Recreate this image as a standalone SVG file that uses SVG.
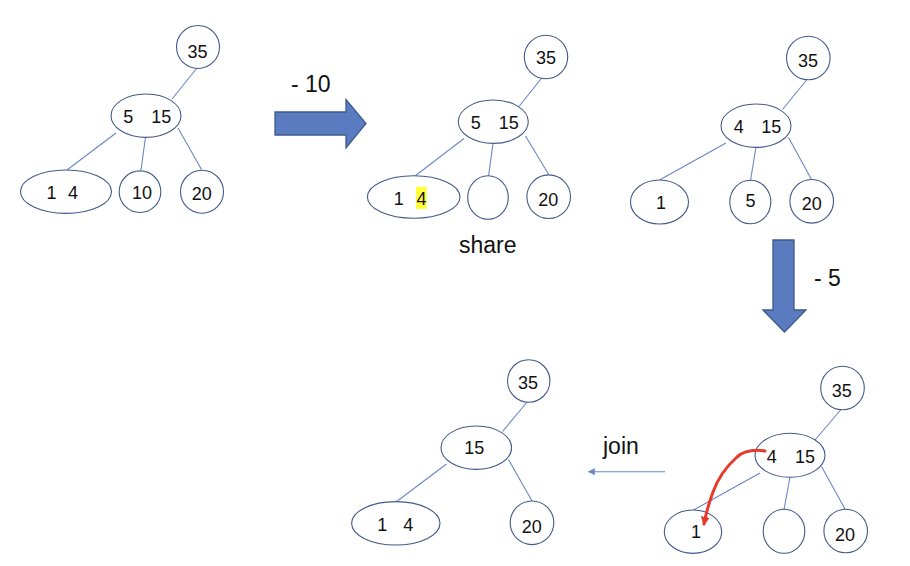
<svg xmlns="http://www.w3.org/2000/svg" width="910" height="566" viewBox="0 0 910 566">
<defs>
<style>
.n{fill:#fff;stroke:#44598a;stroke-width:1.1}
.e{stroke:#6a87c2;stroke-width:1.1;fill:none}
.t{font-family:"Liberation Sans",Arial,sans-serif;font-size:18px;fill:#111;text-anchor:middle}
.l{font-family:"Liberation Sans",Arial,sans-serif;font-size:23px;fill:#111}
.big{fill:#5a7bbf;stroke:#3d5a8c;stroke-width:1.3}
</style>
<marker id="ah" viewBox="0 0 10 10" refX="9" refY="5" markerWidth="7" markerHeight="7" orient="auto" markerUnits="userSpaceOnUse"><path d="M0,0 L10,5 L0,10 z" fill="#6a87c2"/></marker>
<marker id="rh" viewBox="0 0 10 10" refX="8" refY="5" markerWidth="9" markerHeight="9" orient="auto" markerUnits="userSpaceOnUse"><path d="M0,0 L10,5 L0,10 z" fill="#e53a2c"/></marker>
</defs>
<rect width="910" height="566" fill="#fff"/>
<g id="connectors">
<line class="e" x1="197" y1="68" x2="172" y2="99"/>
<line class="e" x1="116" y1="133" x2="67" y2="170"/>
<line class="e" x1="145.5" y1="137" x2="141" y2="170"/>
<line class="e" x1="178" y1="128" x2="201.5" y2="169.5"/>
<line class="e" x1="542.5" y1="77" x2="519" y2="106.5"/>
<line class="e" x1="464" y1="138.5" x2="415" y2="176"/>
<line class="e" x1="493" y1="143.5" x2="488.5" y2="176.5"/>
<line class="e" x1="525.5" y1="136" x2="549" y2="175"/>
<line class="e" x1="807" y1="79.5" x2="782.5" y2="109.5"/>
<line class="e" x1="726" y1="143" x2="659.5" y2="180"/>
<line class="e" x1="756" y1="147" x2="750.5" y2="180.5"/>
<line class="e" x1="788.5" y1="137.5" x2="811.5" y2="179.5"/>
<line class="e" x1="528" y1="401" x2="502.5" y2="431.5"/>
<line class="e" x1="446.5" y1="464" x2="396" y2="502"/>
<line class="e" x1="508.5" y1="459.5" x2="532" y2="501"/>
<line class="e" x1="841" y1="409.5" x2="815" y2="440"/>
<line class="e" x1="760" y1="473" x2="693.5" y2="510"/>
<line class="e" x1="790" y1="477" x2="784" y2="509.5"/>
<line class="e" x1="821.5" y1="466.5" x2="845" y2="509"/>
<line class="e" x1="665" y1="471.7" x2="588.5" y2="471.7" marker-end="url(#ah)"/>
<polygon id="arrow-10" class="big" points="275,112 346,112 346,99.5 366,123.5 346,148 346,135 275,135"/>
<polygon id="arrow-5" class="big" points="773,240 794,240 794,310 806,310 784.5,332 763,310 773,310"/>
</g>
<g id="labels">
<text class="l" x="291" y="92">- 10</text>
<text class="l" x="459" y="253">share</text>
<text class="l" x="814" y="286">- 5</text>
<text class="l" x="603" y="454">join</text>
</g>
<g id="t1-35"><circle class="n" cx="198" cy="47" r="21.5"/><text class="t" x="197.5" y="58">35</text></g>
<g id="t1-515"><ellipse class="n" cx="146" cy="115.7" rx="35" ry="21.7"/><text class="t" x="128.3" y="122.5">5</text><text class="t" x="161.2" y="122.5">15</text></g>
<g id="t1-14"><ellipse class="n" cx="66" cy="191.7" rx="45.5" ry="21.7"/><text class="t" x="51.6" y="198.5">1</text><text class="t" x="73" y="198.5">4</text></g>
<g id="t1-10"><circle class="n" cx="140" cy="191.7" r="20.8"/><text class="t" x="142" y="198.5">10</text></g>
<g id="t1-20"><circle class="n" cx="202" cy="191.7" r="21.5"/><text class="t" x="201.7" y="199.5">20</text></g>

<g id="t2-35"><circle class="n" cx="546" cy="57" r="21.7"/><text class="t" x="546" y="64">35</text></g>
<g id="t2-515"><ellipse class="n" cx="493.3" cy="121.7" rx="35" ry="21.7"/><text class="t" x="475.8" y="128.8">5</text><text class="t" x="508.8" y="128.8">15</text></g>
<g id="t2-14"><ellipse class="n" cx="413.7" cy="197" rx="46.3" ry="21.3"/><rect x="416" y="186.7" width="10.7" height="22.3" fill="#ffff3c"/><text class="t" x="398.8" y="205">1</text><text class="t" x="421.4" y="205">4</text></g>
<g id="t2-empty"><ellipse class="n" cx="488" cy="197.5" rx="20.3" ry="21.8"/></g>
<g id="t2-20"><circle class="n" cx="548.7" cy="196.7" r="21.8"/><text class="t" x="548.3" y="206">20</text></g>

<g id="t3-35"><circle class="n" cx="808.3" cy="58" r="21.8"/><text class="t" x="808" y="67">35</text></g>
<g id="t3-415"><ellipse class="n" cx="756" cy="125.7" rx="35" ry="21.7"/><text class="t" x="738.7" y="132.5">4</text><text class="t" x="771.2" y="132.5">15</text></g>
<g id="t3-1"><ellipse class="n" cx="659.5" cy="202" rx="29" ry="22"/><text class="t" x="661" y="209">1</text></g>
<g id="t3-5"><ellipse class="n" cx="750.3" cy="202" rx="20.5" ry="21.8"/><text class="t" x="750.5" y="206.7">5</text></g>
<g id="t3-20"><circle class="n" cx="811.7" cy="201.3" r="21.8"/><text class="t" x="811.7" y="210">20</text></g>

<g id="t4-35"><circle class="n" cx="528.7" cy="381" r="21.2"/><text class="t" x="528" y="389">35</text></g>
<g id="t4-15"><ellipse class="n" cx="476.3" cy="447.7" rx="35.3" ry="21.7"/><text class="t" x="474.3" y="454">15</text></g>
<g id="t4-14"><ellipse class="n" cx="395.8" cy="523.3" rx="44.2" ry="21.7"/><text class="t" x="382.2" y="530.5">1</text><text class="t" x="408.3" y="530.5">4</text></g>
<g id="t4-20"><circle class="n" cx="532" cy="522.8" r="21.8"/><text class="t" x="531.7" y="532.5">20</text></g>

<g id="t5-35"><circle class="n" cx="842.5" cy="388" r="21.8"/><text class="t" x="841.7" y="397">35</text></g>
<g id="t5-415"><ellipse class="n" cx="790" cy="455.3" rx="35" ry="22"/><text class="t" x="771.7" y="462.5">4</text><text class="t" x="805" y="462.5">15</text></g>
<g id="t5-1"><ellipse class="n" cx="693" cy="531.7" rx="28.7" ry="21.7"/><text class="t" x="696" y="538.3">1</text></g>
<g id="t5-empty"><ellipse class="n" cx="784" cy="531.3" rx="20.8" ry="22"/></g>
<g id="t5-20"><circle class="n" cx="845.7" cy="531" r="21.8"/><text class="t" x="845" y="540.5">20</text></g>
<g id="red-arrow"><path d="M765,451 C755,449.5 744,451 737,457 C727,466 718,478 713,492 C709,503 706,513 704,524" fill="none" stroke="#e53a2c" stroke-width="3" stroke-linecap="round" marker-end="url(#rh)"/></g>
</svg>
